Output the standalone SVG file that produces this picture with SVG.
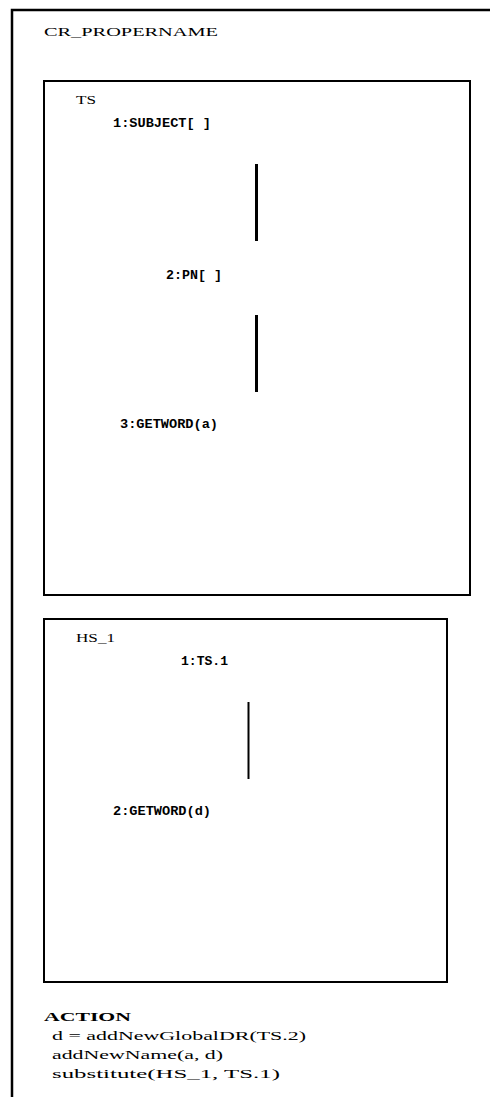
<svg xmlns="http://www.w3.org/2000/svg" width="490" height="1097" viewBox="0 0 490 1097">
<style>
.frame{fill:none;stroke:#000;stroke-width:2.5}
.box{fill:none;stroke:#000;stroke-width:2}
.conn{stroke:#000;stroke-width:3}
.serif{font-family:"Liberation Serif","DejaVu Serif",serif;font-size:12.5px;fill:#000}
.bold{font-family:"Liberation Serif","DejaVu Serif",serif;font-size:13px;font-weight:bold;fill:#000}
.mono{font-family:"Liberation Mono","DejaVu Sans Mono",monospace;font-size:12px;font-weight:bold;fill:#000}
</style>
<rect width="490" height="1097" fill="#fff"/>
<g id="frame">
<path class="frame" d="M12,1097 V10 H490"/>
<text class="serif" x="44" y="36" textLength="174" lengthAdjust="spacingAndGlyphs">CR_PROPERNAME</text>
</g>
<g id="TS">
<rect class="box" x="44" y="81" width="426" height="514"/>
<text class="serif" x="76" y="104" textLength="20" lengthAdjust="spacingAndGlyphs">TS</text>
</g>
<g id="TS-1">
<text class="mono" x="113" y="127" textLength="98" lengthAdjust="spacingAndGlyphs">1:SUBJECT[ ]</text>
</g>
<g id="TS-2">
<text class="mono" x="166" y="279" textLength="56" lengthAdjust="spacingAndGlyphs">2:PN[ ]</text>
</g>
<g id="TS-3">
<text class="mono" x="120" y="428" textLength="98" lengthAdjust="spacingAndGlyphs">3:GETWORD(a)</text>
</g>
<g id="HS_1">
<rect class="box" x="44" y="619" width="403" height="363"/>
<text class="serif" x="76" y="642" textLength="39" lengthAdjust="spacingAndGlyphs">HS_1</text>
</g>
<g id="HS_1-1">
<text class="mono" x="181" y="665" textLength="47" lengthAdjust="spacingAndGlyphs">1:TS.1</text>
</g>
<g id="HS_1-2">
<text class="mono" x="113" y="815" textLength="98" lengthAdjust="spacingAndGlyphs">2:GETWORD(d)</text>
</g>
<g id="connectors">
<line class="conn" x1="256.5" y1="164" x2="256.5" y2="241"/>
<line class="conn" x1="256.5" y1="315" x2="256.5" y2="392"/>
<line class="conn" x1="248.5" y1="702" x2="248.5" y2="779" style="stroke-width:2"/>
</g>
<g id="action">
<text class="bold" x="44" y="1021" textLength="87" lengthAdjust="spacingAndGlyphs">ACTION</text>
<text class="serif" x="52" y="1040" textLength="254" lengthAdjust="spacingAndGlyphs">d = addNewGlobalDR(TS.2)</text>
<text class="serif" x="52" y="1059" textLength="171" lengthAdjust="spacingAndGlyphs">addNewName(a, d)</text>
<text class="serif" x="52" y="1078" textLength="228" lengthAdjust="spacingAndGlyphs">substitute(HS_1, TS.1)</text>
</g>
</svg>
